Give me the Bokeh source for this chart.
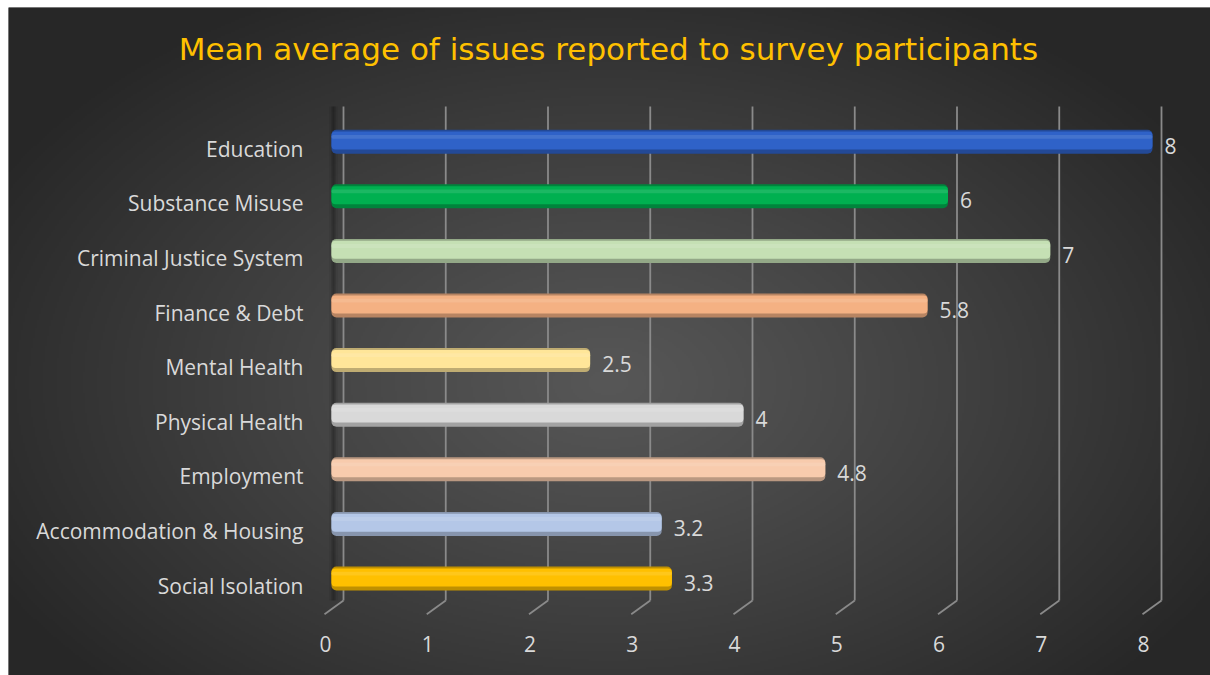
import numpy as np
from bokeh.plotting import figure
from bokeh.models import ColumnDataSource, Range1d, Label
from bokeh.core.properties import value
from bokeh.embed import file_html
from bokeh.resources import INLINE

# ---------------- data ----------------
title_text = "Mean average of issues reported to survey participants"
categories = ["Education", "Substance Misuse", "Criminal Justice System", "Finance & Debt",
              "Mental Health", "Physical Health", "Employment",
              "Accommodation & Housing", "Social Isolation"]
values = [8, 6, 7, 5.8, 2.5, 4, 4.8, 3.2, 3.3]
bar_colors = ["#2f62c8", "#00b050", "#c5e0b4", "#f4b183", "#ffe699",
              "#d9d9d9", "#f8cbad", "#b4c7e7", "#ffc000"]
x_ticks = [0, 1, 2, 3, 4, 5, 6, 7, 8]
tick_labels = ["0", "1", "2", "3", "4", "5", "6", "7", "8"]

# ---------------- styling helpers ----------------
def shade(hex_color, f):
    h = hex_color.lstrip("#")
    r, g, b = (int(h[i:i + 2], 16) for i in (0, 2, 4))
    if f < 1:
        r, g, b = (int(c * f) for c in (r, g, b))
    else:
        t = f - 1
        r, g, b = (int(c + (255 - c) * t) for c in (r, g, b))
    return "#%02x%02x%02x" % (r, g, b)

TOTAL_W, TOTAL_H = 1210, 675
ML, MT = 8, 7                      # white strip left / top
W, H = TOTAL_W - ML, TOTAL_H - MT  # frame size
PX_X, X0_PIX = 102.25, 326.0       # px per unit, frame px of value 0
PX_Y, Y0_PIX = 54.6, 571.0         # px per slot, frame px of lowest bar
xs = -X0_PIX / PX_X
xe = xs + W / PX_X
ye = Y0_PIX / PX_Y
ys = ye - H / PX_Y

n = len(categories)
ypos = [n - 1 - i for i in range(n)]
value_labels = [f"{v:g}" for v in values]

src = ColumnDataSource(dict(
    cat=categories, y=ypos, v=values, vl=value_labels,
    color=bar_colors,
    edge=[shade(c, 0.75) for c in bar_colors],
    light=[shade(c, 1.18) for c in bar_colors],
    ymain=[y + 0.02 for y in ypos],
    yhi=[y + 0.09 for y in ypos],
))

p = figure(width=TOTAL_W, height=TOTAL_H, x_range=Range1d(xs, xe), y_range=Range1d(ys, ye),
           output_backend="svg", toolbar_location=None,
           x_axis_location=None, y_axis_location=None,
           min_border_left=ML, min_border_top=MT, min_border_right=0, min_border_bottom=0,
           outline_line_color=None, background_fill_color="#272727",
           border_fill_color="#ffffff")
p.grid.visible = False

# background radial gradient
GH, GW = 334, 601
gy, gx = np.mgrid[0:GH, 0:GW]
sx = (gx + 0.5) / GW * W
sy = H - (gy + 0.5) / GH * H
d = np.sqrt(((sx - 600) / 700.0) ** 2 + ((sy - 375) / 440.0) ** 2)
t = np.clip(d, 0, 1) ** 1.1
c = (0x57 - (0x57 - 0x27) * t).astype(np.uint32)
img = (np.uint32(255) << 24) | (c << 16) | (c << 8) | c
p.image_rgba(image=[img], x=xs, y=ys, dw=xe - xs, dh=ye - ys)

# 3D wall / floor grid lines
WALL_TOP = (Y0_PIX - 99) / PX_Y
WALL_BOTTOM = (Y0_PIX - 593) / PX_Y
BACK_DX = 9 / PX_X
FLOOR_DX = -19 / PX_X
FLOOR_DY = -13.7 / PX_Y
bx = [t_ + BACK_DX for t_ in x_ticks]
p.segment(x0=bx, y0=[WALL_BOTTOM] * len(bx), x1=bx, y1=[WALL_TOP] * len(bx),
          line_color="#8a8a8a", line_width=1.8)
p.segment(x0=bx, y0=[WALL_BOTTOM] * len(bx), x1=[b + FLOOR_DX for b in bx],
          y1=[WALL_BOTTOM + FLOOR_DY] * len(bx), line_color="#8a8a8a", line_width=1.8)
# left side-wall shadow (soft)
for w_, a_ in ((9, 0.06), (5, 0.10), (2, 0.14)):
    p.segment(x0=[-0.01], y0=[WALL_BOTTOM], x1=[-0.01], y1=[WALL_TOP],
              line_color="#000000", line_alpha=a_, line_width=w_)

# bars (3D-ish look)
BAR_LEFT = -0.03
p.hbar(y="y", left=BAR_LEFT, right="v", height=0.44, source=src, fill_color="edge",
       line_color=None, border_radius=5)
p.hbar(y="ymain", left=BAR_LEFT, right="v", height=0.33, source=src, fill_color="color",
       line_color=None, border_radius=4)
p.hbar(y="yhi", left=BAR_LEFT, right="v", height=0.07, source=src, fill_color="light",
       fill_alpha=0.6, line_color=None, border_radius=2)

FONT = value("Open Sans")
# category labels
p.text(x=0, y="y", text="cat", source=src, x_offset=-31, y_offset=7,
       text_align="right", text_baseline="middle", text_color="#d9d9d9",
       text_font=FONT, text_font_size="21px")
# value labels
p.text(x="v", y="y", text="vl", source=src, x_offset=12, y_offset=4,
       text_align="left", text_baseline="middle", text_color="#d9d9d9",
       text_font=FONT, text_font_size="21px")
# x tick labels
p.text(x=[b + FLOOR_DX for b in bx], y=[WALL_BOTTOM + FLOOR_DY] * len(bx), text=tick_labels,
       x_offset=1, y_offset=30, text_align="center", text_baseline="middle",
       text_color="#d9d9d9", text_font=FONT, text_font_size="21px")

# title (centre at frame px x=600, y=41)
p.add_layout(Label(x=xs + 600 / PX_X, y=ye - 41 / PX_Y, text=title_text,
                   text_align="center", text_baseline="middle", text_color="#ffc000",
                   text_font="DejaVu Sans", text_font_size="31px"))

open("out.html", "w").write(file_html(p, INLINE))
